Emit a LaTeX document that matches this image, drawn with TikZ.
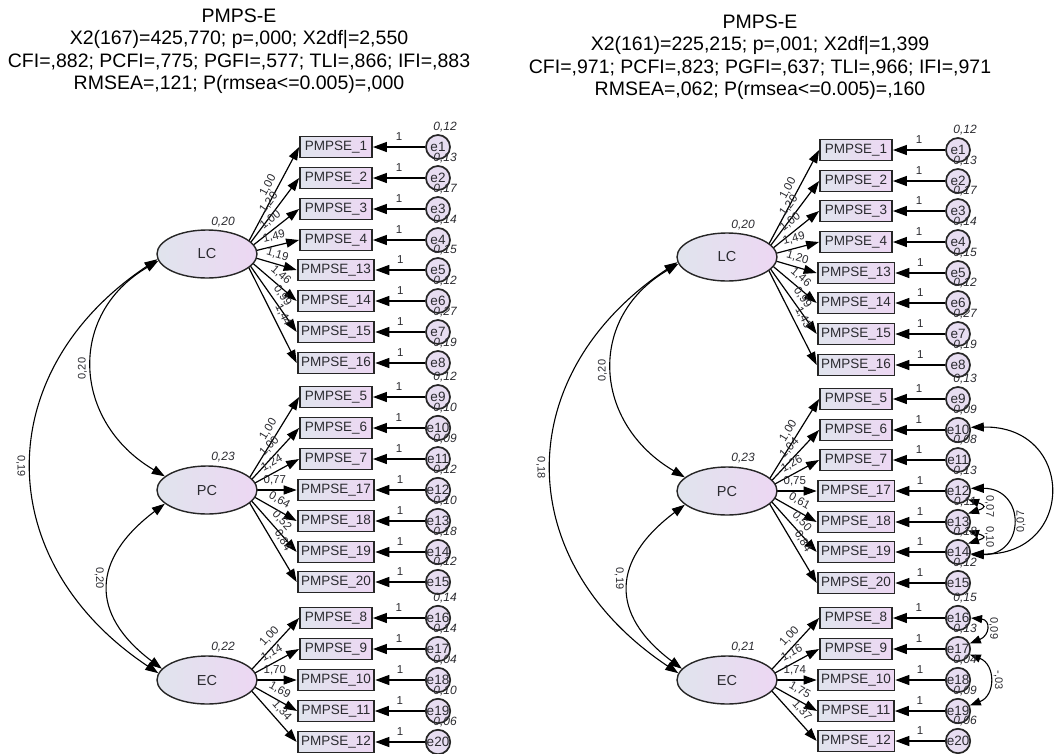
\documentclass[tikz,border=0pt]{standalone}
\usepackage{fontspec}
\setmainfont{Liberation Sans}
\usetikzlibrary{shapes.geometric,arrows.meta,calc}
\pgfdeclarelayer{bg}
\pgfdeclarelayer{links}
\pgfsetlayers{bg,links,main}

\definecolor{shadeL}{HTML}{E0E4ED}
\definecolor{shadeR}{HTML}{EDD7F3}
\definecolor{errfill}{HTML}{E7DDF1}
\definecolor{ink}{HTML}{2B2B30}
\definecolor{frame}{HTML}{262626}

\tikzset{
  latent/.style={ellipse, draw=frame, line width=1.4pt, left color=shadeL, right color=shadeR,
    minimum width=100pt, minimum height=48pt, inner sep=0pt,
    font=\fontsize{14.5}{16}\selectfont, text=ink},
  item/.style={rectangle, draw=frame, line width=1.8pt, left color=shadeL, right color=shadeR,
    minimum width=72pt, minimum height=21pt, inner xsep=3.5pt, inner ysep=0pt,
    font=\fontsize{13.5}{15}\selectfont, text=ink},
  err/.style={circle, draw=frame, line width=1.7pt, fill=errfill, minimum size=24pt,
    inner sep=0pt, font=\fontsize{13.5}{15}\selectfont, text=ink},
  load/.style={-{Triangle[length=13pt,width=9pt]}, line width=1.2pt},
  errarrow/.style={-{Triangle[length=14pt,width=10pt]}, line width=1.3pt},
  covar/.style={{Triangle[length=13pt,width=9pt]}-{Triangle[length=13pt,width=9pt]}, line width=1.1pt},
  smallcov/.style={{Triangle[length=11pt,width=8pt]}-{Triangle[length=11pt,width=8pt]}, line width=1.1pt},
  coef/.style={font=\fontsize{11.5}{13}\selectfont, text=ink, inner sep=1pt},
  arccoef/.style={font=\fontsize{11}{13}\selectfont, text=ink, inner sep=1pt},
  varlabel/.style={font=\fontsize{12}{14}\selectfont\itshape, text=ink, inner sep=0pt},
  heading/.style={font=\fontsize{19.5}{22.5}\selectfont, align=center, inner sep=0pt},
}

% #1 name prefix, #2 x offset, #3/#4/#5 y of LC/PC/EC, #6 rows:
% row/item/y/factor/loading/error variance
\newcommand\measurementmodel[6]{%
  \node[latent] (#1LC) at ({#2+207},#3) {LC};
  \node[latent] (#1PC) at ({#2+207},#4) {PC};
  \node[latent] (#1EC) at ({#2+207},#5) {EC};
  \foreach \row/\itm/\ypos/\fac/\wt/\ev in {#6} {
    \node[item] (#1b\row) at ({#2+336},\ypos) {PMPSE\_\itm};
    \node[err] (#1e\row) at ({#2+438},\ypos) {e\row};
    \node[varlabel, xshift=7pt, yshift=20pt] (#1v\row) at (#1e\row) {\ev};
    \begin{pgfonlayer}{links}
      \draw[errarrow] (#1e\row) -- node[coef, above=5pt] {1} (#1b\row);
      \draw[load] ([xshift=35pt]#1\fac.center) -- node[coef, pos=0.6, sloped, above=3pt] {\wt} (#1b\row.west);
    \end{pgfonlayer}
  }
}

% latent variances and the three latent covariances
\newcommand\latentlinks[7]{%
  \node[varlabel, xshift=16pt, yshift=32pt] (#1vLC) at (#1LC) {#2};
  \node[varlabel, xshift=16pt, yshift=33pt] (#1vPC) at (#1PC) {#3};
  \node[varlabel, xshift=16pt, yshift=33pt] (#1vEC) at (#1EC) {#4};
  \begin{pgfonlayer}{links}
    \draw[covar] (#1LC.188) .. controls +(-92,54) and +(-92,-54) ..
      node[arccoef, pos=0.5, xshift=-10pt, rotate=90] {#5} (#1PC.162);
    \draw[covar] (#1LC.186) .. controls +(-168,112) and +(-168,-112) ..
      node[arccoef, pos=0.5, xshift=-11pt, rotate=-90] {#6} (#1EC.172);
    \draw[covar] (#1PC.198) .. controls +(-73,55) and +(-73,-55) ..
      node[arccoef, pos=0.45, xshift=-10pt, rotate=-90] {#7} (#1EC.166);
  \end{pgfonlayer}
}

\begin{document}
\begin{tikzpicture}[x=1pt, y=-1pt]
\useasboundingbox (0,0) rectangle (1054,753);
\begin{pgfonlayer}{bg}
  \fill[white] (0,0) rectangle (1054,753);
\end{pgfonlayer}

% ---------- first model ----------
\node[heading] (Lt) at (239,51) {PMPS-E\\X2(167)=425,770; p=,000; X2df|=2,550\\CFI=,882; PCFI=,775; PGFI=,577; TLI=,866; IFI=,883\\RMSEA=,121; P(rmsea<=0.005)=,000};

\measurementmodel{L}{0}{254}{490}{680}{%
1/1/147/LC/{1,00}/{0,12},
2/2/178/LC/{1,20}/{0,13},
3/3/209/LC/{1,00}/{0,17},
4/4/240/LC/{1,49}/{0,14},
5/13/270/LC/{1,19}/{0,15},
6/14/301/LC/{1,46}/{0,12},
7/15/332/LC/{0,99}/{0,27},
8/16/363/LC/{1,44}/{0,19},
9/5/397/PC/{1,00}/{0,12},
10/6/428/PC/{1,00}/{0,10},
11/7/459/PC/{1,24}/{0,09},
12/17/490/PC/{0,77}/{0,12},
13/18/521/PC/{0,64}/{0,10},
14/19/552/PC/{0,52}/{0,18},
15/20/582/PC/{0,84}/{0,12},
16/8/618/EC/{1,00}/{0,14},
17/9/649/EC/{1,14}/{0,14},
18/10/680/EC/{1,70}/{0,04},
19/11/711/EC/{1,69}/{0,10},
20/12/742/EC/{1,34}/{0,06}}

\latentlinks{L}{0,20}{0,23}{0,22}{0,20}{0,19}{0,20}

% ---------- second model ----------
\node[heading] (Rt) at (760,57) {PMPS-E\\X2(161)=225,215; p=,001; X2df|=1,399\\CFI=,971; PCFI=,823; PGFI=,637; TLI=,966; IFI=,971\\RMSEA=,062; P(rmsea<=0.005)=,160};

\measurementmodel{R}{520}{257}{491}{680}{%
1/1/150/LC/{1,00}/{0,12},
2/2/181/LC/{1,20}/{0,13},
3/3/211/LC/{1,00}/{0,17},
4/4/242/LC/{1,49}/{0,14},
5/13/273/LC/{1,20}/{0,15},
6/14/303/LC/{1,46}/{0,12},
7/15/334/LC/{0,99}/{0,27},
8/16/365/LC/{1,43}/{0,19},
9/5/399/PC/{1,00}/{0,13},
10/6/430/PC/{1,04}/{0,09},
11/7/460/PC/{1,26}/{0,08},
12/17/491/PC/{0,75}/{0,13},
13/18/522/PC/{0,61}/{0,11},
14/19/552/PC/{0,50}/{0,18},
15/20/583/PC/{0,84}/{0,12},
16/8/618/EC/{1,00}/{0,15},
17/9/649/EC/{1,16}/{0,13},
18/10/680/EC/{1,74}/{0,04},
19/11/711/EC/{1,75}/{0,09},
20/12/741/EC/{1,37}/{0,06}}

\latentlinks{R}{0,20}{0,23}{0,21}{0,20}{0,18}{0,19}

% correlated residuals of the second model
\begin{pgfonlayer}{links}
  \draw[covar] (Re10.12) .. controls +(105,-2) and +(105,2) ..
    node[arccoef, pos=0.5, xshift=9pt, rotate=-90] {-,04} (Re14.-8);
  \draw[covar] (Re12.12) .. controls +(55,0) and +(55,0) ..
    node[arccoef, pos=0.5, xshift=9pt, rotate=90] {0,07} (Re14.-12);
  \draw[smallcov] (Re12.-40) .. controls +(18,6) and +(18,-6) ..
    node[arccoef, pos=0.5, xshift=8pt, rotate=-90] {0,07} (Re13.40);
  \draw[smallcov] (Re13.-40) .. controls +(18,6) and +(18,-6) ..
    node[arccoef, pos=0.5, xshift=8pt, rotate=-90] {0,10} (Re14.40);
  \draw[smallcov] (Re16.0) .. controls +(20,2) and +(20,-8) ..
    node[arccoef, pos=0.5, xshift=8pt, rotate=-90] {0,09} (Re17.25);
  \draw[smallcov] (Re17.-25) .. controls +(26,10) and +(26,-10) ..
    node[arccoef, pos=0.5, xshift=9pt, rotate=-90] {-,03} (Re19.25);
\end{pgfonlayer}
\end{tikzpicture}
\end{document}
